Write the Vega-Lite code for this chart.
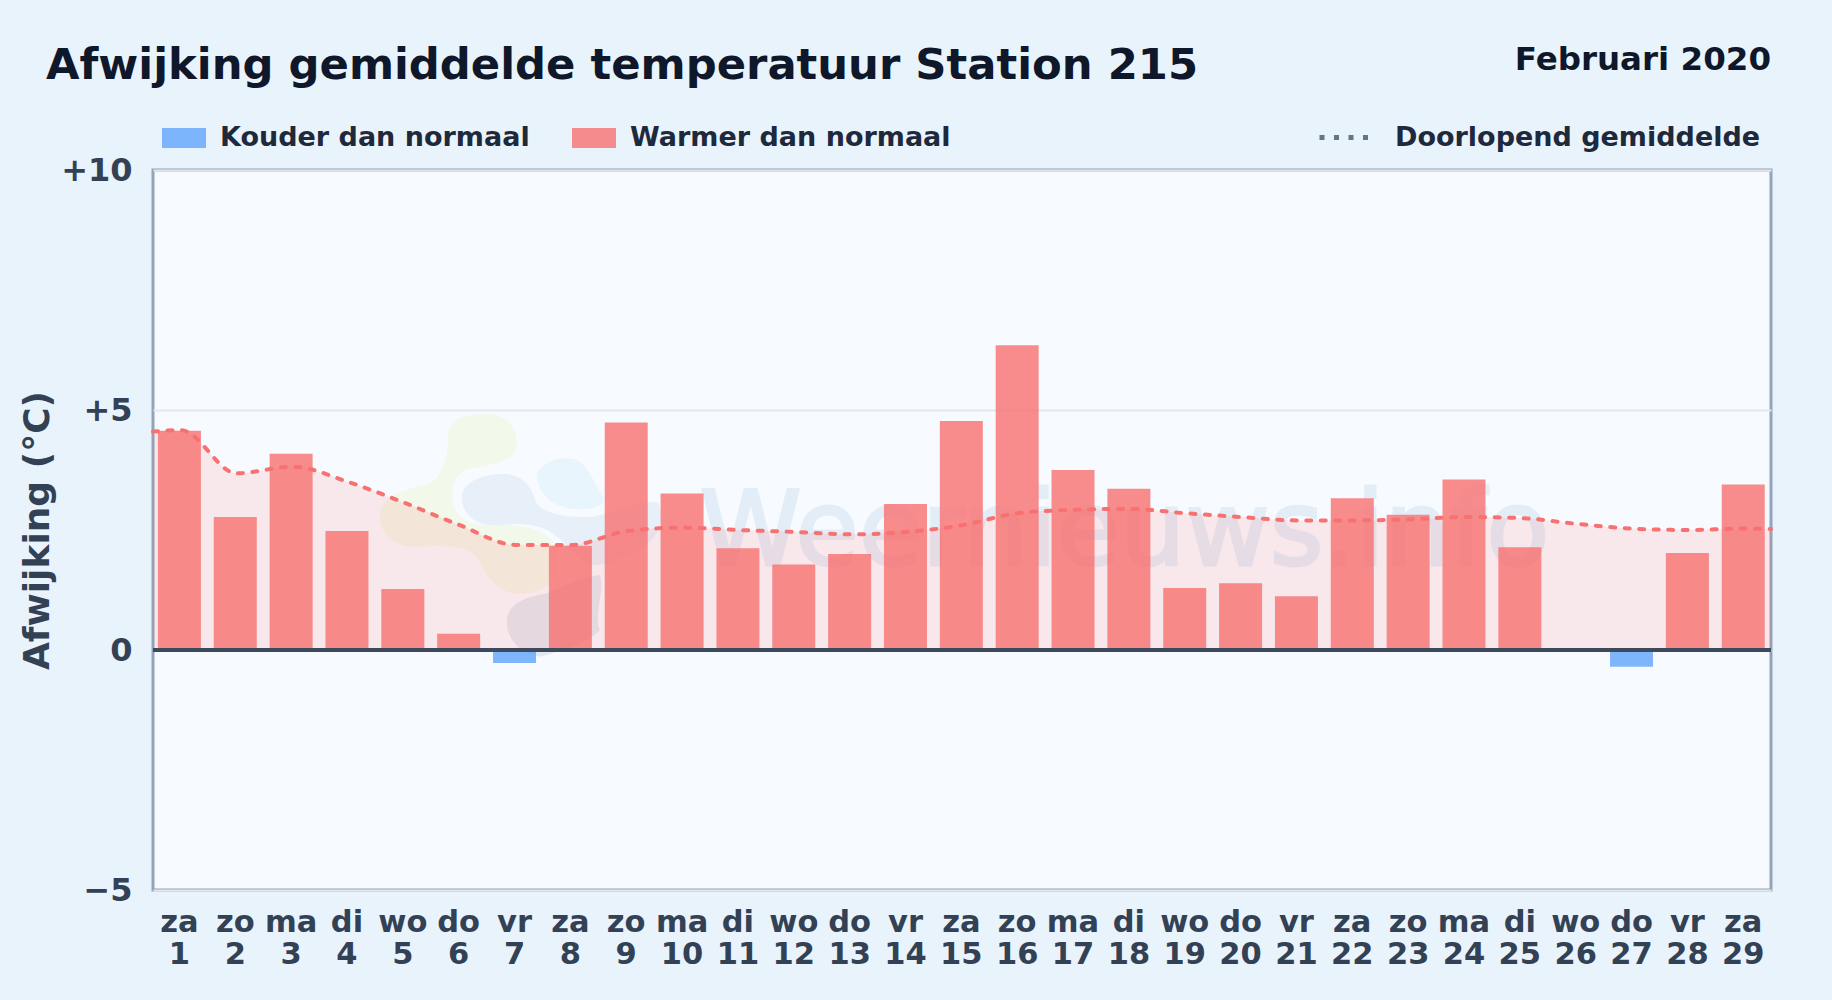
{
"$schema":"https://vega.github.io/schema/vega-lite/v6.json",
"width":1618,"height":720,"autosize":"none",
"padding":{"left":153,"top":170,"right":61,"bottom":110},
"background":"#e9f3fc",
"title":{"text":"Afwijking gemiddelde temperatuur Station 215","anchor":"start","frame":"group","dx":-107,"dy":79,"fontSize":43.3,"font":"DejaVu Sans","fontWeight":"bold","color":"#0f172a","baseline":"alphabetic","offset":0},
"config":{"view":{"fill":"#f7fbff","stroke":"#94a3b8","strokeWidth":3},"font":"DejaVu Sans"},
"datasets":{
"days":[
{"dag":"za 1","waarde":4.57,"soort":"Warmer dan normaal"},{"dag":"zo 2","waarde":2.77,"soort":"Warmer dan normaal"},{"dag":"ma 3","waarde":4.09,"soort":"Warmer dan normaal"},{"dag":"di 4","waarde":2.48,"soort":"Warmer dan normaal"},{"dag":"wo 5","waarde":1.27,"soort":"Warmer dan normaal"},{"dag":"do 6","waarde":0.34,"soort":"Warmer dan normaal"},{"dag":"vr 7","waarde":-0.27,"soort":"Kouder dan normaal"},{"dag":"za 8","waarde":2.17,"soort":"Warmer dan normaal"},{"dag":"zo 9","waarde":4.74,"soort":"Warmer dan normaal"},{"dag":"ma 10","waarde":3.26,"soort":"Warmer dan normaal"},{"dag":"di 11","waarde":2.12,"soort":"Warmer dan normaal"},{"dag":"wo 12","waarde":1.78,"soort":"Warmer dan normaal"},{"dag":"do 13","waarde":2.0,"soort":"Warmer dan normaal"},{"dag":"vr 14","waarde":3.04,"soort":"Warmer dan normaal"},{"dag":"za 15","waarde":4.77,"soort":"Warmer dan normaal"},{"dag":"zo 16","waarde":6.35,"soort":"Warmer dan normaal"},{"dag":"ma 17","waarde":3.75,"soort":"Warmer dan normaal"},{"dag":"di 18","waarde":3.36,"soort":"Warmer dan normaal"},{"dag":"wo 19","waarde":1.29,"soort":"Warmer dan normaal"},{"dag":"do 20","waarde":1.39,"soort":"Warmer dan normaal"},{"dag":"vr 21","waarde":1.12,"soort":"Warmer dan normaal"},{"dag":"za 22","waarde":3.16,"soort":"Warmer dan normaal"},{"dag":"zo 23","waarde":2.82,"soort":"Warmer dan normaal"},{"dag":"ma 24","waarde":3.55,"soort":"Warmer dan normaal"},{"dag":"di 25","waarde":2.14,"soort":"Warmer dan normaal"},{"dag":"wo 26","waarde":0,"soort":"Warmer dan normaal"},{"dag":"do 27","waarde":-0.35,"soort":"Kouder dan normaal"},{"dag":"vr 28","waarde":2.02,"soort":"Warmer dan normaal"},{"dag":"za 29","waarde":3.45,"soort":"Warmer dan normaal"}],
"mean":[
{"d":0.5,"waarde":4.55,"serie":"Doorlopend gemiddelde"},{"d":1,"waarde":4.58,"serie":"Doorlopend gemiddelde"},{"d":2,"waarde":3.68,"serie":"Doorlopend gemiddelde"},{"d":3,"waarde":3.82,"serie":"Doorlopend gemiddelde"},{"d":4,"waarde":3.5,"serie":"Doorlopend gemiddelde"},{"d":5,"waarde":3.07,"serie":"Doorlopend gemiddelde"},{"d":6,"waarde":2.6,"serie":"Doorlopend gemiddelde"},{"d":7,"waarde":2.19,"serie":"Doorlopend gemiddelde"},{"d":8,"waarde":2.19,"serie":"Doorlopend gemiddelde"},{"d":9,"waarde":2.48,"serie":"Doorlopend gemiddelde"},{"d":10,"waarde":2.55,"serie":"Doorlopend gemiddelde"},{"d":11,"waarde":2.5,"serie":"Doorlopend gemiddelde"},{"d":12,"waarde":2.46,"serie":"Doorlopend gemiddelde"},{"d":13,"waarde":2.41,"serie":"Doorlopend gemiddelde"},{"d":14,"waarde":2.46,"serie":"Doorlopend gemiddelde"},{"d":15,"waarde":2.6,"serie":"Doorlopend gemiddelde"},{"d":16,"waarde":2.85,"serie":"Doorlopend gemiddelde"},{"d":17,"waarde":2.92,"serie":"Doorlopend gemiddelde"},{"d":18,"waarde":2.94,"serie":"Doorlopend gemiddelde"},{"d":19,"waarde":2.85,"serie":"Doorlopend gemiddelde"},{"d":20,"waarde":2.77,"serie":"Doorlopend gemiddelde"},{"d":21,"waarde":2.7,"serie":"Doorlopend gemiddelde"},{"d":22,"waarde":2.7,"serie":"Doorlopend gemiddelde"},{"d":23,"waarde":2.72,"serie":"Doorlopend gemiddelde"},{"d":24,"waarde":2.77,"serie":"Doorlopend gemiddelde"},{"d":25,"waarde":2.75,"serie":"Doorlopend gemiddelde"},{"d":26,"waarde":2.63,"serie":"Doorlopend gemiddelde"},{"d":27,"waarde":2.53,"serie":"Doorlopend gemiddelde"},{"d":28,"waarde":2.5,"serie":"Doorlopend gemiddelde"},{"d":29,"waarde":2.53,"serie":"Doorlopend gemiddelde"},{"d":29.5,"waarde":2.52,"serie":"Doorlopend gemiddelde"}],
"logo":[{"d":4.21,"waarde":5.417}]
},
"resolve":{"scale":{"x":"independent"}},
"encoding":{"y":{"field":"waarde","type":"quantitative","stack":null,"scale":{"domain":[-5,10],"nice":false},
  "axis":{"values":[-5,0,5,10],"title":"Afwijking (°C)","titleFontSize":36,"titleFontWeight":"bold","titleColor":"#334155","titlePadding":4,"labelExpr":"datum.value>0?'+'+datum.value:(datum.value<0?'−'+abs(datum.value):'0')","labelFontSize":32,"labelFontWeight":"bold","labelColor":"#334155","labelPadding":21,"ticks":false,"domain":false,"grid":true,"gridColor":"#e2e8f0","gridWidth":2,"labelFont":"DejaVu Sans","titleFont":"DejaVu Sans"}}},
"layer":[
{"data":{"name":"logo"},"mark":{"type":"point","filled":true,"size":0.4444,"opacity":1,"color":"#f2f8ea","shape":"M265,130 C265,80 340,70 390,72 C450,80 475,120 470,170 C465,210 400,225 330,235 C290,245 270,290 280,340 C290,390 340,410 420,405 C500,400 570,430 590,470 L590,560 C560,600 510,615 460,610 C400,600 370,540 350,500 C320,465 230,465 170,472 C90,470 55,420 60,370 C65,320 130,300 210,280 C255,255 265,190 265,130 Z"},
 "encoding":{"x":{"field":"d","type":"quantitative","scale":{"domain":[0.5,29.5],"nice":false,"zero":false},"axis":null}}},
{"data":{"name":"logo"},"mark":{"type":"point","filled":true,"size":0.4444,"opacity":1,"color":"#e7f0f8","shape":"M305,320 C310,270 380,250 440,252 C500,258 515,300 530,340 C550,370 620,385 700,380 C760,370 860,320 895,340 C915,380 900,440 850,470 C800,500 730,530 690,525 C640,500 610,450 590,440 C560,410 500,395 430,405 C360,415 305,380 305,320 Z"},
 "encoding":{"x":{"field":"d","type":"quantitative","scale":{"domain":[0.5,29.5],"nice":false,"zero":false},"axis":null}}},
{"data":{"name":"logo"},"mark":{"type":"point","filled":true,"size":0.4444,"opacity":1,"color":"#e8f5fd","shape":"M530,260 C540,210 610,195 650,210 C690,230 700,280 730,320 C740,345 700,360 650,358 C600,355 540,330 530,260 Z"},
 "encoding":{"x":{"field":"d","type":"quantitative","scale":{"domain":[0.5,29.5],"nice":false,"zero":false},"axis":null}}},
{"data":{"name":"logo"},"mark":{"type":"point","filled":true,"size":0.4444,"opacity":1,"color":"#e3e9f1","shape":"M440,690 C445,640 500,620 560,610 C610,590 660,560 720,555 C735,600 700,680 720,720 C680,760 600,785 540,800 C480,790 440,750 440,690 Z"},
 "encoding":{"x":{"field":"d","type":"quantitative","scale":{"domain":[0.5,29.5],"nice":false,"zero":false},"axis":null}}},
{"data":{"values":[{"t":"Weernieuws.info","d":10.3,"waarde":1.77}]},
 "mark":{"type":"text","align":"left","baseline":"alphabetic","fontSize":103,"color":"#2a6fb0","stroke":"#2a6fb0","strokeWidth":3,"opacity":0.09,"font":"DejaVu Sans"},
 "encoding":{"text":{"field":"t"},"x":{"field":"d","type":"quantitative","scale":{"domain":[0.5,29.5],"nice":false,"zero":false},"axis":null}}},
{"data":{"name":"mean"},
 "mark":{"type":"area","interpolate":"monotone","color":"#ff6b6b","opacity":0.13},
 "encoding":{"x":{"field":"d","type":"quantitative","scale":{"domain":[0.5,29.5],"nice":false,"zero":false},"axis":null},"y2":{"datum":0}}},
{"data":{"name":"days"},
 "mark":{"type":"bar","opacity":0.8},
 "encoding":{
  "x":{"field":"dag","type":"ordinal","sort":null,"scale":{"paddingInner":0.23,"paddingOuter":0.1,"align":0.44},
    "axis":{"title":null,"labelAngle":0,"labelAlign":"center","labelBaseline":"top","labelExpr":"split(datum.label,' ')","labelFontSize":30.5,"labelFontWeight":"bold","labelColor":"#334155","labelLineHeight":32,"ticks":false,"domain":false,"labelPadding":17,"labelFont":"DejaVu Sans"}},
  "color":{"field":"soort","type":"nominal","scale":{"domain":["Kouder dan normaal","Warmer dan normaal"],"range":["#60a5fa","#f87171"]},
    "legend":{"title":null,"orient":"none","legendX":8,"legendY":-55,"direction":"horizontal","columns":2,"columnPadding":41,"symbolType":"M-1,-0.45H1V0.45H-1Z","symbolSize":1936,"symbolOpacity":0.8,"labelFontSize":27,"labelFontWeight":"bold","labelColor":"#1e293b","labelFont":"DejaVu Sans","labelOffset":13,"labelLimit":600}}}},
{"data":{"name":"mean"},
 "mark":{"type":"line","interpolate":"monotone","color":"#f87171","strokeWidth":4,"strokeCap":"round"},
 "encoding":{"x":{"field":"d","type":"quantitative","scale":{"domain":[0.5,29.5],"nice":false,"zero":false},"axis":null},
  "strokeDash":{"field":"serie","type":"nominal","scale":{"domain":["Doorlopend gemiddelde"],"range":[[5,9.5]]},
    "legend":{"title":null,"orient":"none","legendX":1164,"legendY":-63,"symbolType":"stroke","symbolSize":3136,"symbolStrokeColor":"#64748b","symbolStrokeWidth":5,"labelFontSize":27,"labelFontWeight":"bold","labelColor":"#1e293b","labelFont":"DejaVu Sans","labelOffset":17,"labelLimit":600,"encode":{"symbols":{"update":{"strokeDash":{"value":[5,12]},"strokeCap":{"value":"butt"}}}}}}}},
{"data":{"values":[{"waarde":0}]},
 "mark":{"type":"rule","color":"#3d4a5e","strokeWidth":4},
 "encoding":{}},
{"data":{"values":[{"t":"Februari 2020","d":29.5,"waarde":12.3}]},
 "mark":{"type":"text","align":"right","baseline":"middle","fontSize":32.5,"fontWeight":"bold","color":"#0f172a","font":"DejaVu Sans","clip":false},
 "encoding":{"text":{"field":"t"},"x":{"field":"d","type":"quantitative","scale":{"domain":[0.5,29.5],"nice":false,"zero":false},"axis":null}}}
]
}
